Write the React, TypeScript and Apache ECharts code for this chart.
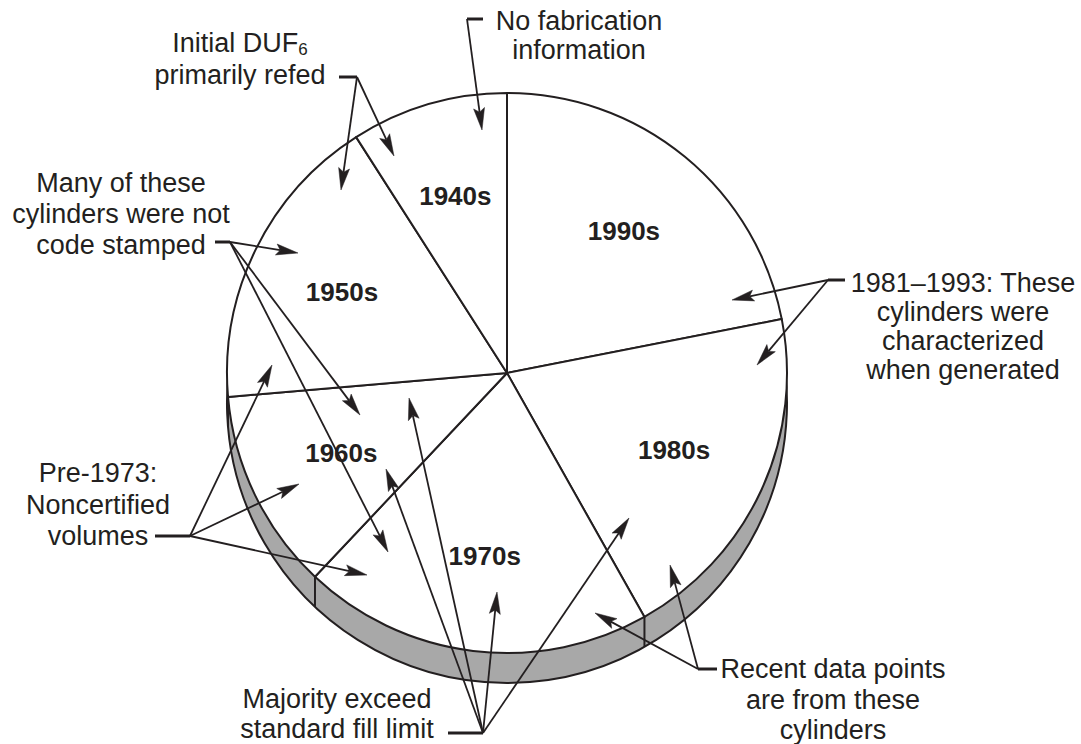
import React, { useEffect, useRef } from "react";
import * as echarts from "echarts";

// ---- data: share of cylinders by fabrication decade (degrees of the pie) ----
const decades = ["1990s", "1980s", "1970s", "1960s", "1950s", "1940s"];
const shares = [78.9, 71.7, 72.7, 41.8, 62.3, 32.6];

// ---- annotation texts ----
const noteTexts = [
  "No fabrication\ninformation",
  "1981\u20131993: These\ncylinders were\ncharacterized\nwhen generated",
  "Many of these\ncylinders were not\ncode stamped",
  "Pre-1973:\nNoncertified\nvolumes",
  "Majority exceed\nstandard fill limit",
  "Recent data points\nare from these\ncylinders",
  "Initial DUF{sub|6}\nprimarily refed",
];
// placement: center x, first baseline, line height
const notePlace = [
  [579, 30, 29],
  [963, 292, 29],
  [121, 192, 31],
  [98, 482, 31.5],
  [337, 708, 30],
  [833, 678, 30.5],
  [240, 52, 32],
];

// callouts: leader segment [x1,y1,x2,y2] (arrows start at x2,y2), arrow tips
const leaders = [
  [483, 19, 467, 19],
  [845, 280, 828, 280],
  [215, 242, 230, 242],
  [155, 536, 190, 536],
  [448, 733, 483, 733],
  [717, 669, 698, 669],
  [339, 77, 357, 77],
];
const arrowTips = [
  [[482, 130]],
  [[732, 300], [757, 365]],
  [[298, 253], [360, 415], [388, 552]],
  [[272, 365], [299, 484], [367, 575]],
  [[386, 469], [409, 398], [497, 592], [629, 518]],
  [[595, 613], [670, 565]],
  [[341, 190], [394, 156]],
];

const CX = 507;
const CY = 373;
const R = 280;
const DEPTH = 30;
const INK = "#231f20";
const FONT = "'Liberation Sans', Arial, Helvetica, sans-serif";
const FS = 27;

function arrow(x0: number, y0: number, tx: number, ty: number): any[] {
  const dx = tx - x0;
  const dy = ty - y0;
  const len = Math.hypot(dx, dy);
  const ux = dx / len;
  const uy = dy / len;
  const nx = -uy;
  const ny = ux;
  const L = 22;
  const W = 5.5;
  const notch = 4;
  const bx = tx - ux * (L - notch);
  const by = ty - uy * (L - notch);
  return [
    {
      type: "line",
      z: 100,
      silent: true,
      shape: { x1: x0, y1: y0, x2: bx, y2: by },
      style: { stroke: INK, lineWidth: 1.8 },
    },
    {
      type: "polygon",
      z: 101,
      silent: true,
      shape: {
        points: [
          [tx, ty],
          [tx - ux * L + nx * W, ty - uy * L + ny * W],
          [bx, by],
          [tx - ux * L - nx * W, ty - uy * L - ny * W],
        ],
      },
      style: { fill: INK, stroke: INK, lineWidth: 0.5 },
    },
  ];
}

export default function App() {
  const ref = useRef<HTMLDivElement>(null);

  useEffect(() => {
    if (!ref.current) return;
    const chart = echarts.init(ref.current, undefined, { renderer: "svg" });

    const total = shares.reduce((a, b) => a + b, 0);
    const bounds: number[] = [90];
    let acc = 0;
    shares.forEach((v) => {
      acc += v;
      bounds.push(90 - (acc / total) * 360);
    });

    const graphics: any[] = [];
    // vertical edges of the side band at slice boundaries on the front half
    bounds.slice(0, bounds.length - 1).forEach((deg) => {
      const a = (deg * Math.PI) / 180;
      if (Math.sin(a) < -0.05) {
        const x = CX + R * Math.cos(a);
        const y = CY - R * Math.sin(a);
        graphics.push({
          type: "line",
          z: 50,
          silent: true,
          shape: { x1: x, y1: y, x2: x, y2: y + DEPTH },
          style: { stroke: INK, lineWidth: 2 },
        });
      }
    });

    // texts
    noteTexts.forEach((t, i) => {
      const [x, base, lh] = notePlace[i];
      graphics.push({
        type: "text",
        z: 100,
        silent: true,
        x,
        y: base - lh / 2 - FS * 0.33,
        style: {
          text: t,
          fill: INK,
          fontSize: FS,
          fontFamily: FONT,
          align: "center",
          verticalAlign: "top",
          lineHeight: lh,
          rich: {
            sub: {
              fontSize: 17,
              fontFamily: FONT,
              fill: INK,
              lineHeight: 12,
              padding: [12, 0, 0, 0],
            },
          },
        },
      });
    });

    // leaders and arrows
    leaders.forEach((ld, i) => {
      graphics.push({
        type: "line",
        z: 100,
        silent: true,
        shape: { x1: ld[0], y1: ld[1], x2: ld[2], y2: ld[3] },
        style: { stroke: INK, lineWidth: 3 },
      });
      arrowTips[i].forEach((tp) => {
        graphics.push(...arrow(ld[2], ld[3], tp[0], tp[1]));
      });
    });

    const pieData = decades.map((d, i) => ({ name: d, value: shares[i] }));

    chart.setOption({
      animation: false,
      backgroundColor: "#ffffff",
      series: [
        {
          type: "pie",
          z: 1,
          silent: true,
          center: [CX, CY + DEPTH],
          radius: R,
          startAngle: 90,
          data: [{ name: "side", value: 1 }],
          label: { show: false },
          labelLine: { show: false },
          itemStyle: { color: "#a8a8a8", borderColor: INK, borderWidth: 2 },
          emphasis: { disabled: true },
        },
        {
          type: "pie",
          z: 2,
          silent: true,
          center: [CX, CY],
          radius: R,
          startAngle: 90,
          clockwise: true,
          data: pieData,
          label: { show: false },
          labelLine: { show: false },
          itemStyle: { color: "#ffffff", borderColor: INK, borderWidth: 2 },
          emphasis: { disabled: true },
        },
        {
          type: "pie",
          z: 3,
          silent: true,
          center: [CX, CY],
          radius: 362,
          startAngle: 90,
          clockwise: true,
          data: pieData,
          itemStyle: { color: "rgba(0,0,0,0)", borderWidth: 0 },
          label: {
            show: true,
            position: "inside",
            formatter: "{b}",
            color: INK,
            fontSize: 26,
            fontWeight: "bold",
            fontFamily: FONT,
          },
          labelLine: { show: false },
          emphasis: { disabled: true },
        },
      ],
      graphic: { elements: graphics },
    });

    return () => {
      chart.dispose();
    };
  }, []);

  return (
    <div
      ref={ref}
      style={{ position: "absolute", left: 0, top: 0, width: 1081, height: 744 }}
    />
  );
}
